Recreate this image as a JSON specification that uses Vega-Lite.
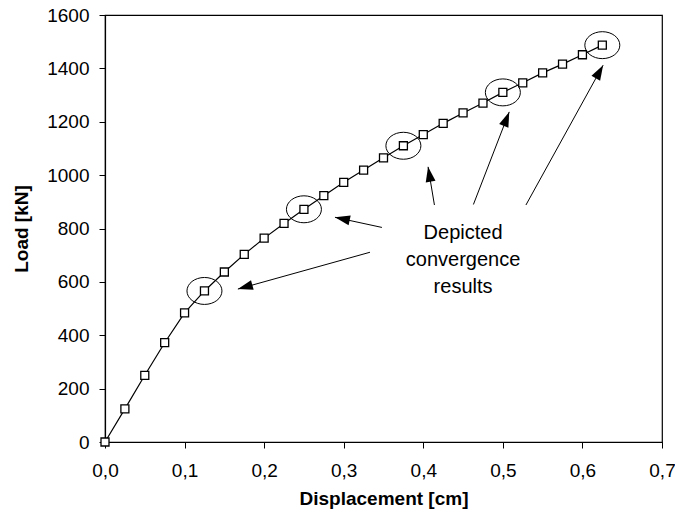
{
  "$schema": "https://vega.github.io/schema/vega-lite/v6.json",
  "autosize": {"type": "none"},
  "padding": {"left": 105, "top": 15, "right": 13, "bottom": 73},
  "width": 557,
  "height": 427,
  "background": "white",
  "config": {
    "view": {"stroke": "black", "strokeWidth": 1.2},
    "font": "Liberation Sans",
    "axis": {
      "domainColor": "black",
      "domainWidth": 1.2,
      "tickColor": "black",
      "tickWidth": 1,
      "tickSize": 6,
      "grid": false,
      "labelFlush": false,
      "labelOverlap": false,
      "labelColor": "black",
      "labelFont": "Liberation Sans",
      "labelFontSize": 19,
      "titleColor": "black",
      "titleFont": "Liberation Sans",
      "titleFontWeight": "bold",
      "titleFontSize": 19
    }
  },
  "datasets": {
    "curve": [
      {"disp": 0.0, "load": 0},
      {"disp": 0.025, "load": 124},
      {"disp": 0.05, "load": 250},
      {"disp": 0.075, "load": 372},
      {"disp": 0.1, "load": 484},
      {"disp": 0.125, "load": 566},
      {"disp": 0.15, "load": 637},
      {"disp": 0.175, "load": 703},
      {"disp": 0.2, "load": 764},
      {"disp": 0.225, "load": 819},
      {"disp": 0.25, "load": 872},
      {"disp": 0.275, "load": 923},
      {"disp": 0.3, "load": 973},
      {"disp": 0.325, "load": 1019},
      {"disp": 0.35, "load": 1065},
      {"disp": 0.375, "load": 1110},
      {"disp": 0.4, "load": 1152},
      {"disp": 0.425, "load": 1194},
      {"disp": 0.45, "load": 1233},
      {"disp": 0.475, "load": 1270},
      {"disp": 0.5, "load": 1310},
      {"disp": 0.525, "load": 1346},
      {"disp": 0.55, "load": 1383},
      {"disp": 0.575, "load": 1416},
      {"disp": 0.6, "load": 1451},
      {"disp": 0.625, "load": 1487}
    ],
    "arrows": [
      {"x0": 0.333, "y0": 711, "x1": 0.167, "y1": 573, "heading": -105.5},
      {"x0": 0.348, "y0": 804, "x1": 0.289, "y1": 842, "heading": -77.9},
      {"x0": 0.414, "y0": 888, "x1": 0.406, "y1": 1031, "heading": -9.8},
      {"x0": 0.463, "y0": 890, "x1": 0.508, "y1": 1237, "heading": 21.3},
      {"x0": 0.529, "y0": 888, "x1": 0.626, "y1": 1412, "heading": 29.2}
    ],
    "note": [
      {"disp": 0.45, "load": 783, "label": "Depicted\nconvergence\nresults"}
    ]
  },
  "layer": [
    {
      "data": {"name": "curve"},
      "mark": {"type": "line", "color": "black", "strokeWidth": 1.2},
      "encoding": {
        "x": {
          "field": "disp", "type": "quantitative",
          "scale": {"domain": [0, 0.7], "nice": false},
          "axis": {
            "title": "Displacement [cm]",
            "values": [0, 0.1, 0.2, 0.3, 0.4, 0.5, 0.6, 0.7],
            "labelExpr": "replace(format(datum.value, '.1f'), '.', ',')",
            "labelPadding": 13,
            "titlePadding": 9
          }
        },
        "y": {
          "field": "load", "type": "quantitative",
          "scale": {"domain": [0, 1600], "nice": false},
          "axis": {
            "title": "Load [kN]",
            "values": [0, 200, 400, 600, 800, 1000, 1200, 1400, 1600],
            "format": "d",
            "labelPadding": 10,
            "titlePadding": 15
          }
        }
      }
    },
    {
      "data": {"name": "curve"},
      "mark": {"type": "point", "shape": "square", "size": 64, "filled": true, "fill": "white", "stroke": "black", "strokeWidth": 1.3, "opacity": 1},
      "encoding": {
        "x": {"field": "disp", "type": "quantitative"},
        "y": {"field": "load", "type": "quantitative"}
      }
    },
    {
      "data": {"name": "curve"},
      "transform": [{"filter": {"field": "disp", "oneOf": [0.125, 0.25, 0.375, 0.5, 0.625]}}],
      "mark": {"type": "point", "shape": "M-1,0 A1,0.77 0 1,0 1,0 A1,0.77 0 1,0 -1,0 Z", "size": 1225, "filled": false, "stroke": "black", "strokeWidth": 1, "opacity": 1},
      "encoding": {
        "x": {"field": "disp", "type": "quantitative"},
        "y": {"field": "load", "type": "quantitative"}
      }
    },
    {
      "data": {"name": "arrows"},
      "mark": {"type": "rule", "color": "black", "strokeWidth": 1},
      "encoding": {
        "x": {"field": "x0", "type": "quantitative"},
        "y": {"field": "y0", "type": "quantitative"},
        "x2": {"field": "x1"},
        "y2": {"field": "y1"}
      }
    },
    {
      "data": {"name": "arrows"},
      "mark": {"type": "point", "shape": "M0,0 L-0.33,1 L0.33,1 Z", "size": 900, "filled": true, "color": "black", "opacity": 1},
      "encoding": {
        "x": {"field": "x1", "type": "quantitative"},
        "y": {"field": "y1", "type": "quantitative"},
        "angle": {"field": "heading", "type": "quantitative", "scale": null}
      }
    },
    {
      "data": {"name": "note"},
      "mark": {"type": "text", "font": "Liberation Sans", "fontSize": 20, "color": "black", "align": "center", "baseline": "middle", "lineBreak": "\n", "lineHeight": 27},
      "encoding": {
        "x": {"field": "disp", "type": "quantitative"},
        "y": {"field": "load", "type": "quantitative"},
        "text": {"field": "label"}
      }
    }
  ]
}
